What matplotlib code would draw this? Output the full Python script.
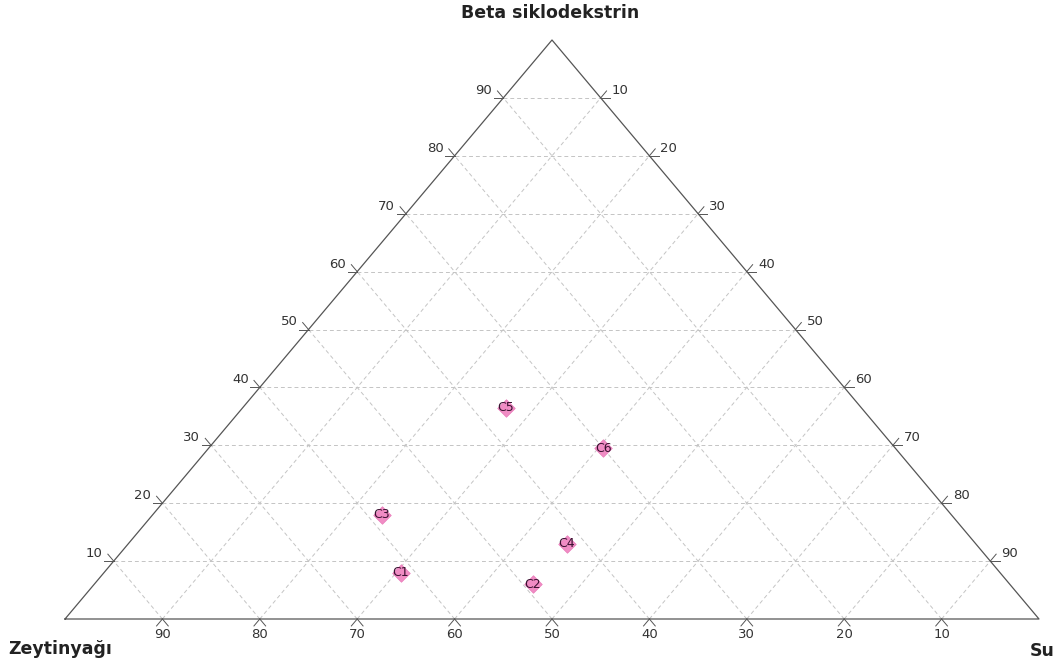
#!/usr/bin/env python3
"""Ternary plot: Zeytinyagi / Beta siklodekstrin / Su formulations."""

import matplotlib
matplotlib.use("Agg")
import matplotlib.pyplot as plt

plt.rcParams["font.family"] = ["DejaVu Sans"]

# composition in percent (Zeytinyağı, Beta siklodekstrin, Su)
labels = ["C1", "C2", "C3", "C4", "C5", "C6"]
zeytinyagi = [61.5, 49.0, 58.5, 42.0, 36.5, 30.0]
beta = [8.0, 6.0, 18.0, 13.0, 36.5, 29.5]
su = [30.5, 45.0, 23.5, 45.0, 27.0, 40.5]

ticks = [10, 20, 30, 40, 50, 60, 70, 80, 90]


def to_xy(z, b, s):
    tot = z + b + s
    b, s = b / tot, s / tot
    return s + b / 2.0, b


fig = plt.figure(figsize=(10.62, 6.70), dpi=100)
ax = fig.add_axes([65 / 1062, 51 / 670, 974 / 1062, 579 / 670])
ax.set_xlim(0, 1)
ax.set_ylim(0, 1)
ax.axis("off")

grid_kw = dict(color="#c4c4c4", lw=0.7, ls=(0, (4, 3)), zorder=1)
tick_kw = dict(color="#555555", lw=0.7, zorder=2, clip_on=False)
tl = 0.012
lab_kw = dict(ha="center", va="center", fontsize=9.5, color="#333333")
for t in ticks:
    f = t / 100.0
    # constant Beta (horizontal)
    ax.plot([f / 2, 1 - f / 2], [f, f], **grid_kw)
    # constant Su (parallel to left edge)
    ax.plot([f, f + (1 - f) / 2], [0, 1 - f], **grid_kw)
    # constant Zeytinyagi (parallel to right edge)
    ax.plot([1 - f, (1 - f) / 2], [0, 1 - f], **grid_kw)

    # left edge: Beta labels
    x0, y0 = f / 2, f
    ax.plot([x0, x0 - tl / 2], [y0, y0 + tl], **tick_kw)
    ax.plot([x0, x0 - tl * 0.8], [y0, y0], **tick_kw)
    ax.text(x0 - 0.02, y0 + 0.013, str(t), **lab_kw)

    # right edge: Su labels
    x1, y1 = f + (1 - f) / 2, 1 - f
    ax.plot([x1, x1 + tl / 2], [y1, y1 + tl], **tick_kw)
    ax.plot([x1, x1 + tl * 0.8], [y1, y1], **tick_kw)
    ax.text(x1 + 0.02, y1 + 0.013, str(t), **lab_kw)

    # bottom edge: Zeytinyagi labels
    xb = 1 - f
    ax.plot([xb, xb - tl / 2], [0, -tl], **tick_kw)
    ax.plot([xb, xb + tl / 2], [0, -tl], **tick_kw)
    ax.text(xb, -0.027, str(t), **lab_kw)

# triangle outline
ax.plot([0, 1, 0.5, 0], [0, 0, 1, 0], color="#555555", lw=0.9, zorder=3,
        clip_on=False)

xs, ys = zip(*(to_xy(z, b, s) for z, b, s in zip(zeytinyagi, beta, su)))
ax.scatter(xs, ys, marker="D", s=80, color="#f08cc4", edgecolors="#ea7cbb",
           linewidths=0.5, zorder=4)
for lab, x, y in zip(labels, xs, ys):
    ax.text(x, y, lab, ha="center", va="center", fontsize=9,
            color="#3a1030", zorder=5)

title_kw = dict(va="center", fontsize=12.5, fontweight="bold", color="#222222")
fig.text(550 / 1062, 1 - 13 / 670, "Beta siklodekstrin", ha="center", **title_kw)
fig.text(8 / 1062, 1 - 649 / 670, "Zeytinyağı", ha="left", **title_kw)
fig.text(1055 / 1062, 1 - 651 / 670, "Su", ha="right", **title_kw)

fig.savefig("out.png", dpi=100, facecolor="white")
